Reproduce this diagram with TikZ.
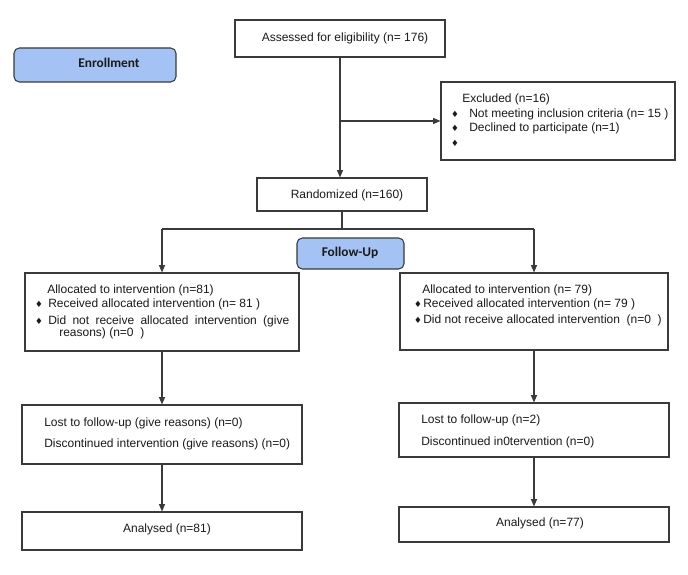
\documentclass[tikz,border=0pt]{standalone}
\usepackage{fontspec}
\setmainfont{Liberation Sans}
\newfontfamily\calibri{Carlito}
\newfontfamily\dejavu{DejaVu Sans}
\usetikzlibrary{arrows.meta,fit}
\definecolor{lineC}{HTML}{3A3A3A}
\definecolor{blueF}{HTML}{A4C2F4}
\definecolor{txtC}{HTML}{1A1A1A}
\newcommand{\dia}{{\dejavu\fontsize{6.5}{6.5}\selectfont ♦}}
\begin{document}
\begin{tikzpicture}[x=0.75pt,y=-0.75pt,
  box/.style={draw=lineC, line width=0.8pt, inner sep=0pt, fill=white},
  tag/.style={draw=lineC, line width=0.8pt, inner sep=0pt, fill=blueF, rounded corners=4pt},
  txt/.style={anchor=west, inner sep=0pt, text=txtC, font=\fontsize{9}{11}\selectfont},
  ctxt/.style={anchor=center, inner sep=0pt, text=txtC, font=\fontsize{9}{11}\selectfont},
  bul/.style={anchor=center, inner sep=0pt, text=txtC},
  tagtxt/.style={anchor=center, inner sep=0pt, text=txtC, font=\calibri\bfseries\fontsize{10}{12}\selectfont},
  con/.style={draw=lineC, line width=0.8pt},
  arr/.style={con, -{Triangle[length=5.5pt,width=4.5pt]}}]
\path[fill=white] (0,0) rectangle (688,574);
% boxes
\node[box, fit={(235,20) (445,57)}] (assess) {};
\node[tag, fit={(14,48) (176,82)}] (enroll) {};
\node[box, fit={(441,82) (675,160)}] (excl) {};
\node[box, fit={(257,178) (427,211)}] (rand) {};
\node[box, fit={(25,273) (299,351)}] (allocL) {};
\node[box, fit={(400,273) (668,350)}] (allocR) {};
\node[box, fit={(22,405) (302,464)}] (lostL) {};
\node[box, fit={(399,403) (669,457)}] (lostR) {};
\node[box, fit={(22,512) (302,550)}] (anaL) {};
\node[box, fit={(399,507) (669,542)}] (anaR) {};
% connectors
\coordinate (split) at (342,229);
\draw[arr] (assess.south) -- (assess.south |- rand.north);
\draw[arr] (assess.south |- excl.west) -- (excl.west);
\draw[con] (rand.south) -- (rand.south |- split);
\draw[con] (allocL.north |- split) -- (allocR.north |- split);
\draw[arr] (allocL.north |- split) -- (allocL.north);
\draw[arr] (allocR.north |- split) -- (allocR.north);
\draw[arr] (allocL.south) -- (lostL.north);
\draw[arr] (allocR.south) -- (lostR.north);
\draw[arr] (lostL.south) -- (anaL.north);
\draw[arr] (lostR.south) -- (anaR.north);
\node[tag, fit={(297,238) (404,269)}] (follow) {};
% texts
\node[tagtxt] (tEnroll) at (109,63) {Enrollment};
\node[tagtxt] (tFollow) at (350,253) {Follow-Up};
\node[ctxt] (tAssess) at (345,38) {Assessed for eligibility (n= 176)};
\node[ctxt] (tRand) at (347,195) {Randomized (n=160)};
\node[txt] (tEx1) at (462,99) {Excluded (n=16)};
\node[bul] (bEx1) at (455,114) {\dia};
\node[txt] (tEx2) at (469,114) {Not meeting inclusion criteria (n= 15 )};
\node[bul] (bEx2) at (455,128) {\dia};
\node[txt] (tEx3) at (469,128) {Declined to participate (n=1)};
\node[bul] (bEx3) at (455,143) {\dia};
\node[txt] (tAL1) at (47,290) {Allocated to intervention (n=81)};
\node[bul] (bAL1) at (39,304) {\dia};
\node[txt] (tAL2) at (48,304) {Received allocated intervention (n= 81 )};
\node[bul] (bAL2) at (39,321) {\dia};
\node[txt] (tAL3) at (48,321) {\makebox[180.75pt][s]{Did not receive allocated intervention (give}};
\node[txt] (tAL4) at (59,333) {reasons) (n=0\ \ )};
\node[txt] (tAR1) at (422,290) {Allocated to intervention (n= 79)};
\node[bul] (bAR1) at (418,304) {\dia};
\node[txt] (tAR2) at (423,304) {Received allocated intervention (n= 79 )};
\node[bul] (bAR2) at (418,320) {\dia};
\node[txt] (tAR3) at (423,320) {Did not receive allocated intervention\ \ (n=0\ \ )};
\node[txt] (tLL1) at (44,423) {Lost to follow-up (give reasons) (n=0)};
\node[txt] (tLL2) at (44,444) {Discontinued intervention (give reasons) (n=0)};
\node[txt] (tLR1) at (421,420) {Lost to follow-up (n=2)};
\node[txt] (tLR2) at (421,442) {Discontinued in0tervention (n=0)};
\node[ctxt] (tAnaL) at (167,529) {Analysed (n=81)};
\node[ctxt] (tAnaR) at (540,523) {Analysed (n=77)};
\end{tikzpicture}
\end{document}
